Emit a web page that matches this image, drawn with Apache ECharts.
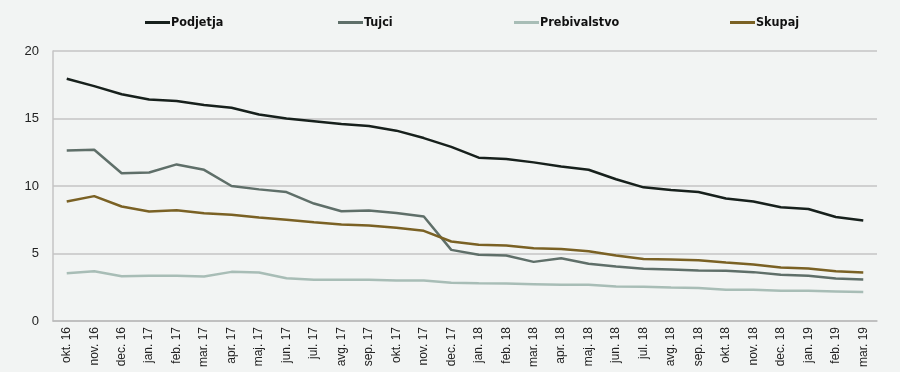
<!DOCTYPE html>
<html><head><meta charset="utf-8">
<script src="https://cdn.jsdelivr.net/npm/echarts@6/dist/echarts.min.js"></script>
<style>html,body{margin:0;padding:0;background:#f2f4f3;}#c{width:900px;height:372px;}</style>
</head><body><div id="c"></div>
<script>
const categories = ['okt. 16','nov. 16','dec. 16','jan. 17','feb. 17','mar. 17','apr. 17','maj. 17','jun. 17','jul. 17','avg. 17','sep. 17','okt. 17','nov. 17','dec. 17','jan. 18','feb. 18','mar. 18','apr. 18','maj. 18','jun. 18','jul. 18','avg. 18','sep. 18','okt. 18','nov. 18','dec. 18','jan. 19','feb. 19','mar. 19'];
const podjetja = [17.95,17.4,16.8,16.4,16.3,16.0,15.8,15.3,15.0,14.8,14.6,14.45,14.1,13.55,12.9,12.1,12.0,11.75,11.45,11.2,10.5,9.9,9.7,9.55,9.07,8.85,8.43,8.3,7.7,7.45];
const tujci = [12.63,12.68,10.95,11.0,11.6,11.2,10.0,9.75,9.55,8.7,8.13,8.18,8.0,7.74,5.27,4.9,4.85,4.38,4.65,4.24,4.04,3.87,3.82,3.74,3.72,3.62,3.42,3.35,3.15,3.07];
const prebivalstvo = [3.54,3.69,3.32,3.35,3.35,3.3,3.64,3.59,3.17,3.05,3.05,3.05,3.0,3.0,2.83,2.8,2.78,2.73,2.68,2.68,2.56,2.54,2.48,2.44,2.31,2.31,2.24,2.24,2.19,2.14];
const skupaj = [8.85,9.25,8.48,8.11,8.21,7.99,7.87,7.67,7.5,7.32,7.15,7.07,6.9,6.68,5.89,5.64,5.6,5.39,5.34,5.17,4.85,4.6,4.56,4.5,4.33,4.19,3.96,3.89,3.69,3.59];
const names = ['Podjetja','Tujci','Prebivalstvo','Skupaj'];
const colors = ['#17201c','#5f6f69','#a8bdb6','#7a6124'];
const all = [podjetja, tujci, prebivalstvo, skupaj];
const legendLeft = [140, 333, 509, 725];

const chart = echarts.init(document.getElementById('c'));
chart.setOption({
  backgroundColor: '#f2f4f3',
  animation: false,
  legend: names.map((n, i) => ({
    left: legendLeft[i], top: 11, itemWidth: 25, itemHeight: 3, icon: 'rect',
    textStyle: {fontFamily: 'DejaVu Sans Condensed', fontWeight: 'bold', fontSize: 12.5, color: '#111', padding: [0,0,0,-4]},
    data: [n]
  })),
  grid: {left: 53, right: 23, top: 51, bottom: 51},
  xAxis: {
    type: 'category', data: categories, boundaryGap: true,
    axisLine: {lineStyle: {color: '#bbbbbb', width: 1.5}},
    axisTick: {show: false},
    axisLabel: {rotate: 90, interval: 0, fontFamily: 'Liberation Sans', fontSize: 12, color: '#222', margin: 6}
  },
  yAxis: {
    type: 'value', min: 0, max: 20, interval: 5,
    axisLine: {show: true, lineStyle: {color: '#c4c4c4', width: 1.5}},
    axisTick: {show: false},
    splitLine: {lineStyle: {color: '#c4c4c4', width: 1.5}},
    axisLabel: {fontFamily: 'Liberation Sans', fontSize: 13, color: '#222', margin: 14}
  },
  series: names.map((n, i) => ({
    name: n, type: 'line', data: all[i], symbol: 'none',
    lineStyle: {color: colors[i], width: 2.5}, itemStyle: {color: colors[i]}
  }))
});
</script></body></html>
